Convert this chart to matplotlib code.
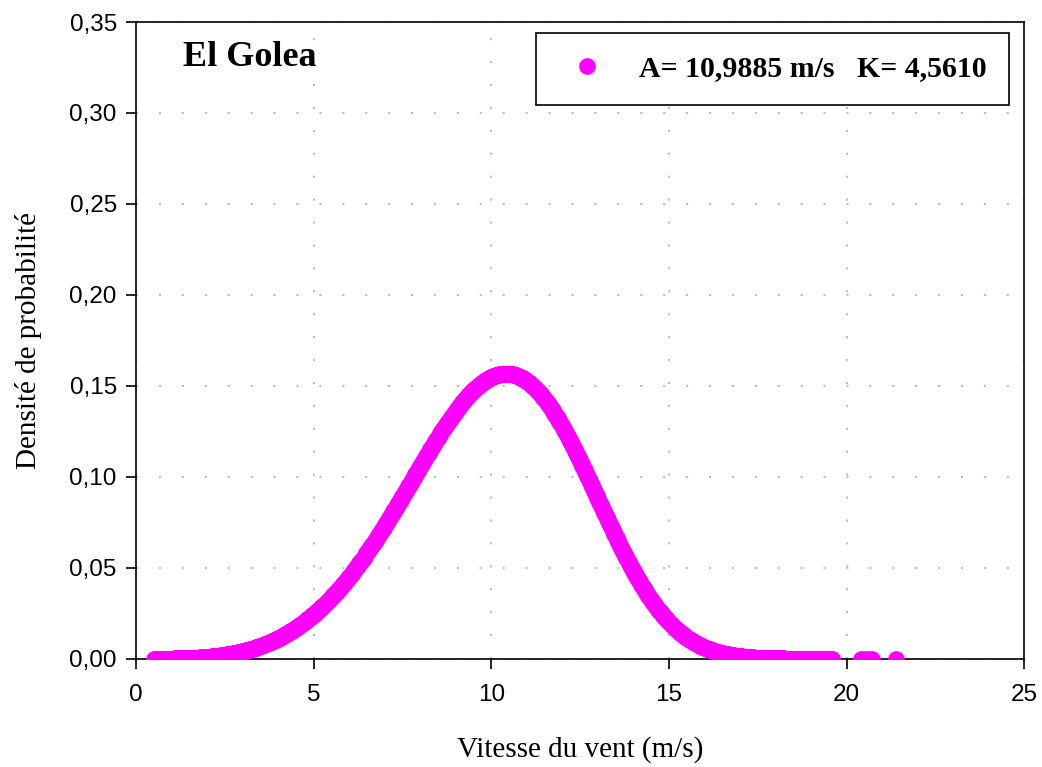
import numpy as np
import matplotlib
matplotlib.use('Agg')
import matplotlib.pyplot as plt

# Weibull parameters of the El Golea station
A = 10.9885
K = 4.5610

# observed wind speeds (m/s): one continuous run plus a few isolated high values
speed_run = (0.5, 19.6)
isolated_speeds = [20.4, 20.5, 20.6, 20.7, 21.4]

x_ticks = [0, 5, 10, 15, 20, 25]
y_ticks = [0.00, 0.05, 0.10, 0.15, 0.20, 0.25, 0.30, 0.35]

v = np.concatenate([np.arange(speed_run[0], speed_run[1] + 1e-9, 0.02), isolated_speeds])
f = (K / A) * (v / A) ** (K - 1) * np.exp(-(v / A) ** K)

serif = 'Liberation Serif'
sans = 'Liberation Sans'

fig = plt.figure(figsize=(10.42, 7.67), dpi=100)
ax = fig.add_axes([0.1308, 0.1412, 0.983 - 0.1308, 0.9713 - 0.1412])

ax.plot(v, f, linestyle='none', marker='o', markersize=12, color='#ff00ff',
        markeredgewidth=0, label='A= 10,9885 m/s   K= 4,5610', zorder=3)

ax.set_xlim(0, 25)
ax.set_ylim(0, 0.35)
ax.set_xticks(x_ticks)
ax.set_yticks(y_ticks)
ax.set_xticklabels([str(t) for t in x_ticks], fontfamily=sans, fontsize=17.5)
ax.set_yticklabels([f'{t:.2f}'.replace('.', ',') for t in y_ticks], fontfamily=sans, fontsize=17.5)
ax.tick_params(direction='out', length=7, width=1.2)
ax.tick_params(axis='x', pad=11)
ax.tick_params(axis='y', pad=7)
for s in ax.spines.values():
    s.set_linewidth(1.2)

ax.grid(True, color='#bdbdbd', linestyle=(0, (1, 10)), linewidth=1.5)
ax.set_axisbelow(True)

ax.set_xlabel('Vitesse du vent (m/s)', fontfamily=serif, fontsize=21, labelpad=22)
ax.set_ylabel('Densité de probabilité', fontfamily=serif, fontsize=21, labelpad=20)

ax.text(0.0526, 0.9435, 'El Golea', transform=ax.transAxes, fontfamily=serif,
        fontsize=26, fontweight='bold', va='center', ha='left')

leg = ax.legend(loc='upper right', bbox_to_anchor=(0.9828, 0.9827), frameon=True,
                fancybox=False, edgecolor='black', framealpha=1,
                prop={'family': serif, 'size': 21.5, 'weight': 'bold'},
                borderpad=0.75, handletextpad=0.78, handlelength=1.91,
                borderaxespad=0)
leg.get_frame().set_linewidth(1.2)

fig.savefig('out.png', dpi=100)
